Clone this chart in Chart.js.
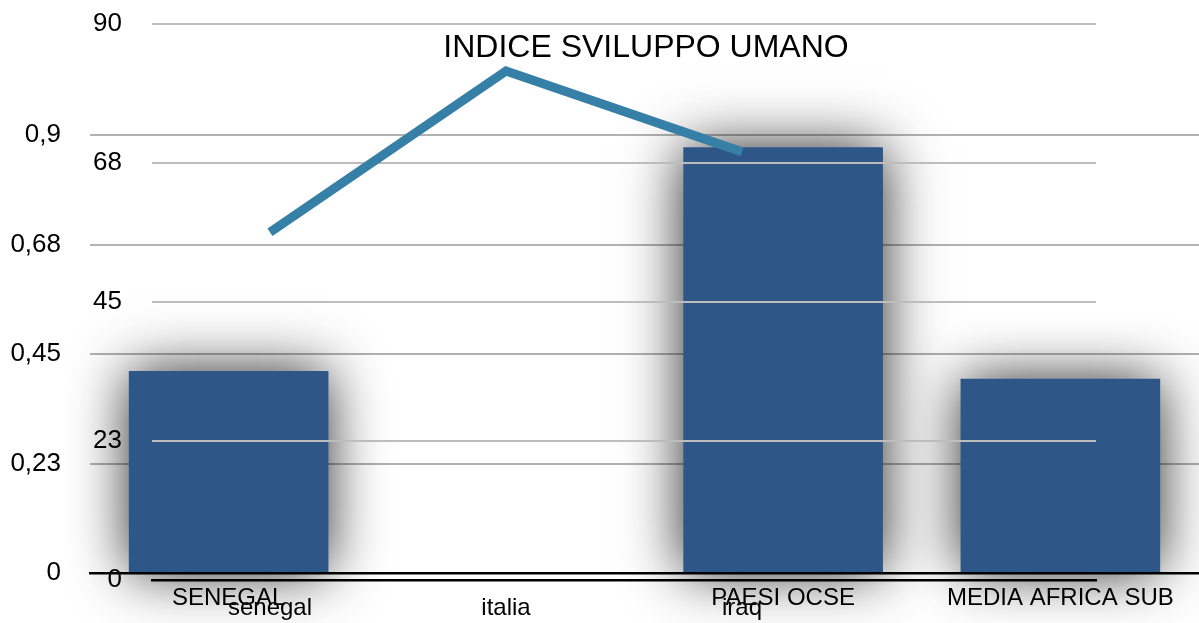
<!DOCTYPE html>
<html>
<head>
<meta charset="utf-8">
<script src="https://cdn.jsdelivr.net/npm/chart.js@4/dist/chart.umd.min.js"></script>
<style>
  html, body { margin: 0; padding: 0; background: #ffffff; }
  #wrap { position: relative; width: 1199px; height: 623px; overflow: hidden; background: #ffffff; }
  #wrap canvas { position: absolute; left: 0; top: 0; }
</style>
</head>
<body>
<div id="wrap">
  <canvas id="barChart" width="1199" height="623"></canvas>
  <canvas id="lineChart" width="1199" height="623"></canvas>
</div>
<script>
// ---- Bar chart data ----
const barCategories = ['SENEGAL', '', 'PAESI OCSE', 'MEDIA AFRICA SUB'];
const barValues = [0.415, null, 0.875, 0.399];
const barTickValues = [0, 0.225, 0.45, 0.675, 0.9];
const barTickLabels = ['0', '0,23', '0,45', '0,68', '0,9'];

// ---- Line chart data ----
const lineTitle = 'INDICE SVILUPPO UMANO';
const lineCategories = ['senegal', 'italia', 'iraq', ''];
const lineValues = [56.3, 82.4, 69.3, null];
const lineTickValues = [0, 22.5, 45, 67.5, 90];
const lineTickLabels = ['0', '23', '45', '68', '90'];

const FONT = 'Liberation Sans';

const shadowPlugin = {
  id: 'barShadow',
  beforeDatasetsDraw(chart) {
    const ctx = chart.ctx;
    ctx.save();
    ctx.shadowColor = 'rgba(0,0,0,0.85)';
    ctx.shadowBlur = 55;
    ctx.shadowOffsetX = 0;
    ctx.shadowOffsetY = 0;
  },
  afterDatasetsDraw(chart) {
    chart.ctx.restore();
  }
};

new Chart(document.getElementById('barChart'), {
  type: 'bar',
  data: {
    labels: barCategories,
    datasets: [{
      data: barValues,
      backgroundColor: '#2e5788',
      borderWidth: 0,
      categoryPercentage: 1.0,
      barPercentage: 0.72,
      clip: false
    }]
  },
  plugins: [shadowPlugin],
  options: {
    responsive: false,
    devicePixelRatio: 1,
    animation: false,
    layout: { autoPadding: false, padding: { top: 135, right: 0, bottom: 0, left: 0 } },
    plugins: { legend: { display: false }, tooltip: { enabled: false }, title: { display: false } },
    scales: {
      x: {
        afterFit(scale) { scale.height = 50; scale.paddingLeft = 0; scale.paddingRight = 0; },
        grid: { display: false, drawTicks: false },
        border: { display: true, color: '#000000', width: 2.5 },
        ticks: { color: '#000000', font: { family: FONT, size: 24 }, padding: 11, maxRotation: 0, autoSkip: false }
      },
      y: {
        min: 0, max: 0.9,
        afterFit(scale) { scale.width = 90; scale.paddingTop = 0; scale.paddingBottom = 0; },
        afterBuildTicks(scale) { scale.ticks = barTickValues.map(v => ({ value: v })); },
        grid: { color: '#b2b2b2', lineWidth: 2, drawTicks: false },
        border: { display: false },
        ticks: {
          color: '#000000', font: { family: FONT, size: 26 }, padding: 29,
          callback: (v, i) => barTickLabels[i]
        }
      }
    }
  }
});

const titlePlugin = {
  id: 'overlayTitle',
  afterDraw(chart) {
    const ctx = chart.ctx;
    ctx.save();
    ctx.fillStyle = '#000000';
    ctx.font = '32px "' + FONT + '"';
    ctx.textAlign = 'center';
    ctx.textBaseline = 'middle';
    ctx.fillText(lineTitle, 646, 48);
    ctx.restore();
  }
};

new Chart(document.getElementById('lineChart'), {
  type: 'line',
  data: {
    labels: lineCategories,
    datasets: [{
      data: lineValues,
      borderColor: '#367fa6',
      borderWidth: 9,
      tension: 0,
      pointRadius: 0,
      pointHitRadius: 0,
      fill: false
    }]
  },
  plugins: [titlePlugin],
  options: {
    responsive: false,
    devicePixelRatio: 1,
    animation: false,
    layout: { autoPadding: false, padding: { top: 24, right: 103, bottom: 0, left: 0 } },
    plugins: { legend: { display: false }, tooltip: { enabled: false }, title: { display: false } },
    scales: {
      x: {
        offset: true,
        afterFit(scale) { scale.height = 43; scale.paddingLeft = 0; scale.paddingRight = 0; },
        grid: { display: false, drawTicks: false, offset: true },
        border: { display: true, color: '#000000', width: 2.5 },
        ticks: { color: '#000000', font: { family: FONT, size: 24 }, padding: 14, maxRotation: 0, autoSkip: false }
      },
      y: {
        min: 0, max: 90,
        afterFit(scale) { scale.width = 152; scale.paddingTop = 0; scale.paddingBottom = 0; },
        afterBuildTicks(scale) { scale.ticks = lineTickValues.map(v => ({ value: v })); },
        grid: { color: '#bdbdbd', lineWidth: 2, drawTicks: false },
        border: { display: false },
        ticks: {
          color: '#000000', font: { family: FONT, size: 26 }, padding: 30,
          callback: (v, i) => lineTickLabels[i]
        }
      }
    }
  }
});
</script>
</body>
</html>
